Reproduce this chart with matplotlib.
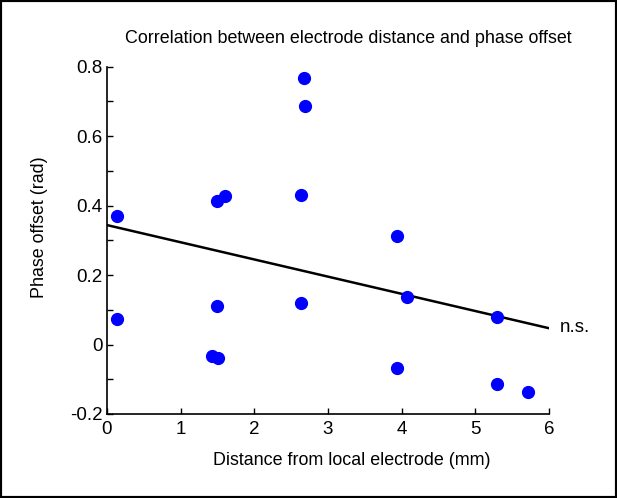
import matplotlib
matplotlib.use("Agg")
import matplotlib.pyplot as plt
from matplotlib.patches import Rectangle
from matplotlib.ticker import MultipleLocator

plt.rcParams['font.family'] = ['Liberation Sans', 'DejaVu Sans']

distance = [0.13, 0.13, 1.50, 1.60, 1.50, 1.42, 1.51, 2.68, 2.69, 2.63, 2.63,
            3.93, 4.07, 3.93, 5.30, 5.30, 5.71]
phase = [0.371, 0.073, 0.413, 0.429, 0.111, -0.033, -0.039, 0.767, 0.688, 0.432,
         0.121, 0.313, 0.136, -0.069, 0.080, -0.114, -0.138]
fit_x = [0, 6]
fit_y = [0.344, 0.047]
xticks = [0, 1, 2, 3, 4, 5, 6]
yticks = [-0.2, 0, 0.2, 0.4, 0.6, 0.8]
ytick_labels = ['-0.2', '0', '0.2', '0.4', '0.6', '0.8']

fig = plt.figure(figsize=(6.17, 4.98), dpi=100)
ax = fig.add_axes([0.1734, 0.1687, 0.7164, 0.6973])

ax.plot(fit_x, fit_y, color='black', lw=1.8, zorder=2)
ax.plot(distance, phase, 'o', color='#0000ff', ms=8.5, mec='#0000ff', zorder=3)
ax.text(6.14, 0.05, 'n.s.', fontsize=13.5, ha='left', va='center')

ax.set_xlim(0, 6)
ax.set_ylim(-0.2, 0.8)
ax.set_xticks(xticks)
ax.set_yticks(yticks)
ax.set_yticklabels(ytick_labels)
ax.yaxis.set_minor_locator(MultipleLocator(0.1))
ax.tick_params(which='both', direction='in', length=4, width=1, labelsize=13.5, pad=3)
ax.tick_params(axis='x', pad=5)
for s in ['top', 'right']:
    ax.spines[s].set_visible(False)
for s in ['left', 'bottom']:
    ax.spines[s].set_linewidth(1.2)

ax.set_xlabel('Distance from local electrode (mm)', fontsize=12.9, labelpad=10, x=0.554)
ax.set_ylabel('Phase offset (rad)', fontsize=12.9, labelpad=16, y=0.538)
ax.set_title('Correlation between electrode distance and phase offset', fontsize=12.9,
             pad=17, x=0.545)

fig.patches.append(Rectangle((0, 0), 1, 1, transform=fig.transFigure, fill=False,
                             edgecolor='black', lw=3, zorder=10))

fig.savefig('out.png', dpi=100)
